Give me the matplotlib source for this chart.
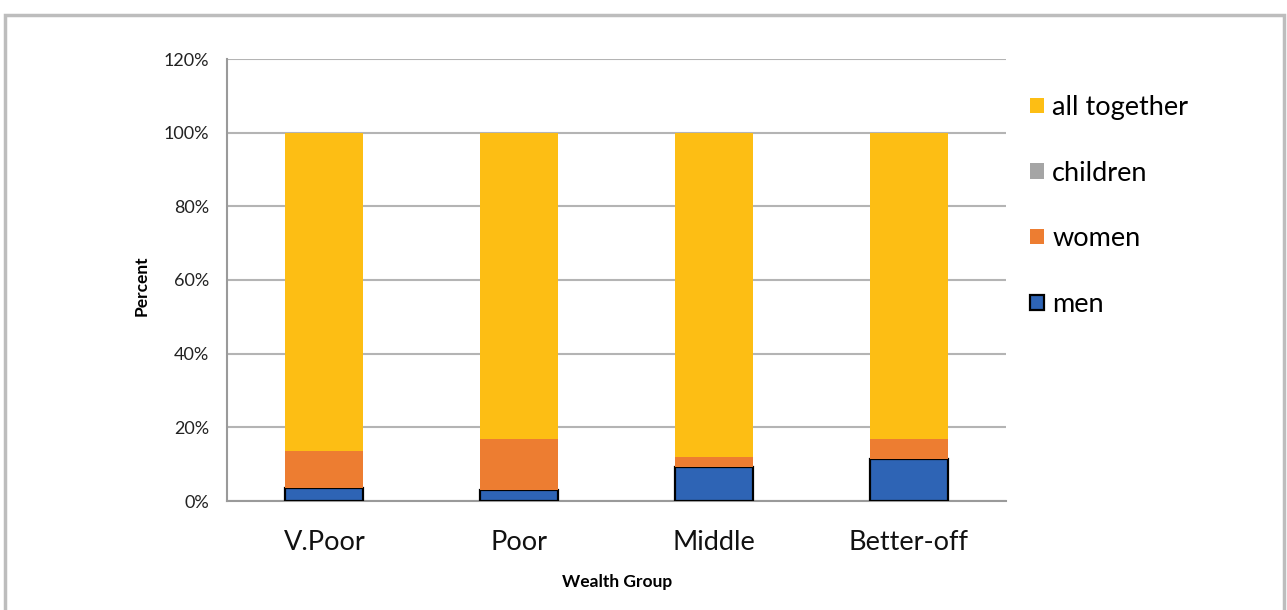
import matplotlib
matplotlib.use("Agg")
import matplotlib.pyplot as plt
from matplotlib.patches import Rectangle, Patch
import numpy as np

categories = ["V.Poor", "Poor", "Middle", "Better-off"]
men = [3.5, 3.0, 9.2, 11.4]
women = [10.0, 13.8, 2.7, 5.4]
children = [0.0, 0.0, 0.0, 0.0]
all_together = [86.5, 83.2, 88.1, 83.2]
yticks = [0, 20, 40, 60, 80, 100, 120]
ytick_labels = ["0%", "20%", "40%", "60%", "80%", "100%", "120%"]

c_men = "#2E64B5"
c_women = "#ED7D31"
c_children = "#A5A5A5"
c_all = "#FDBE14"
c_grid = "#B4B4B4"

plt.rcParams['font.family'] = ['Lato', 'DejaVu Sans']

fig = plt.figure(figsize=(12.87, 6.10), dpi=100)
ax = fig.add_axes([227/1287, 1-501/610, (1006-227)/1287, (501-59)/610])

x = np.arange(len(categories))
w = 0.4
men_a = np.array(men); women_a = np.array(women)
ch_a = np.array(children); all_a = np.array(all_together)

ax.bar(x, men_a, w, color=c_men, edgecolor="black", linewidth=1.6, zorder=3)
ax.bar(x, women_a, w, bottom=men_a, color=c_women, linewidth=0, zorder=3)
ax.bar(x, ch_a, w, bottom=men_a + women_a, color=c_children, linewidth=0, zorder=3)
ax.bar(x, all_a, w, bottom=men_a + women_a + ch_a, color=c_all, linewidth=0, zorder=3)

ax.set_xlim(-0.5, len(categories) - 0.5)
ax.set_ylim(0, 120)
ax.set_yticks(yticks)
ax.set_yticklabels(ytick_labels, fontsize=13, color="#222222")
ax.set_xticks(x)
ax.set_xticklabels(categories, fontsize=19.5, color="#111111")
ax.tick_params(axis="both", length=0)
ax.tick_params(axis="x", pad=21)
ax.tick_params(axis="y", pad=13)
ax.yaxis.grid(True, color=c_grid, linewidth=1.5, zorder=0)
ax.set_axisbelow(True)
for s in ["top", "right"]:
    ax.spines[s].set_visible(False)
ax.spines["left"].set_color("#9A9A9A")
ax.spines["left"].set_linewidth(1.5)
ax.spines["bottom"].set_color("#9A9A9A")
ax.spines["bottom"].set_linewidth(1.5)

fig.text(142/1287, 1-286/610, "Percent", rotation=90, fontsize=12.5,
         fontweight="bold", ha="center", va="center")
fig.text(617/1287, 1-582/610, "Wealth Group", fontsize=12.5,
         fontweight="bold", ha="center", va="center")

handles = [
    Patch(facecolor=c_all, edgecolor="none"),
    Patch(facecolor=c_children, edgecolor="none"),
    Patch(facecolor=c_women, edgecolor="none"),
    Patch(facecolor=c_men, edgecolor="black", linewidth=1.6),
]
labels = ["all together", "children", "women", "men"]
fig.legend(handles, labels, loc="upper left",
           bbox_to_anchor=(1030/1287, 1-95/610), frameon=False,
           fontsize=19.5, handlelength=0.5, handleheight=0.5,
           handletextpad=0.32, labelspacing=1.5, borderaxespad=0,
           borderpad=0)

fig.add_artist(Rectangle((5/1287, -0.05), (1284-5)/1287, 1.05 + (1-15/610) - 1,
                         transform=fig.transFigure, fill=False,
                         edgecolor="#BDBDBD", linewidth=2.5))

fig.savefig("out.png", dpi=100)
